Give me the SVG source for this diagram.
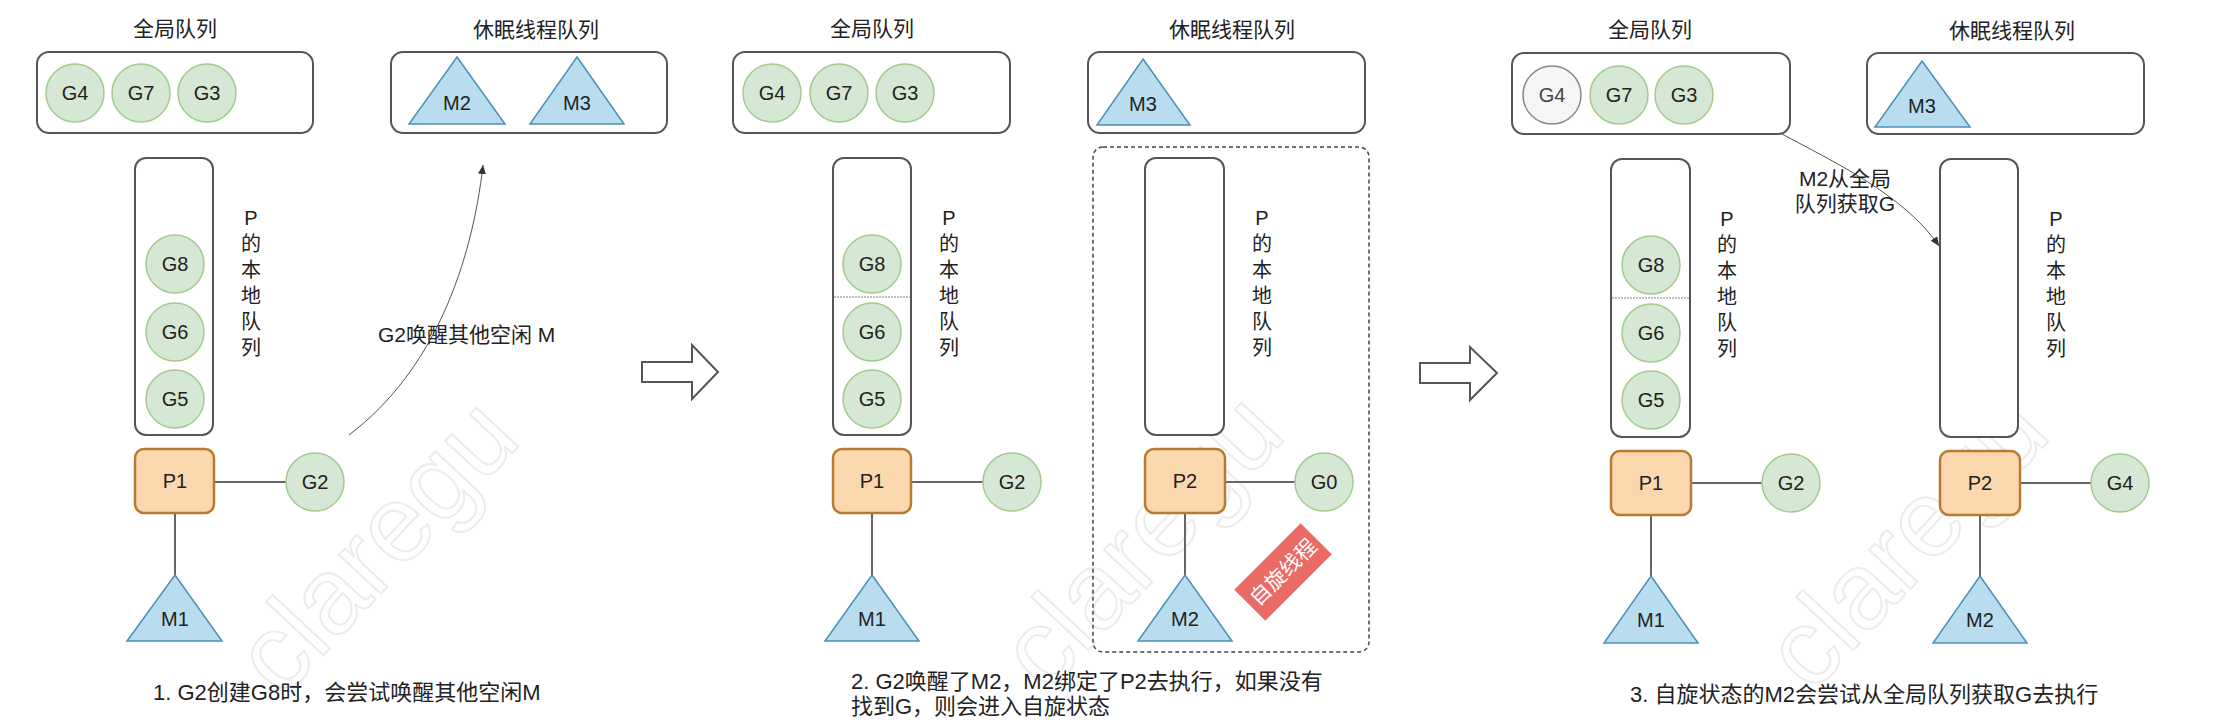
<svg xmlns="http://www.w3.org/2000/svg" width="2234" height="728" viewBox="0 0 2234 728">
<defs>
<style>
text{font-family:"Liberation Sans","Noto Sans CJK SC",sans-serif;fill:#222;}
.t{font-size:21px;text-anchor:middle;}
.cap{font-size:22px;}
.lb2{font-size:21px;}
.lbl{font-size:20px;text-anchor:middle;dominant-baseline:central;}
.vt{font-size:20px;text-anchor:middle;}
.box{fill:#fff;stroke:#555;stroke-width:2;}
.g{fill:#d5e8d4;stroke:#a3c98f;stroke-width:1.5;}
.gg{fill:#f5f5f5;stroke:#888;stroke-width:1.5;}
.m{fill:#b9dcef;stroke:#4a90b8;stroke-width:1.5;}
.p{fill:#fad7ac;stroke:#b87a30;stroke-width:2.5;}
.ln{stroke:#666;stroke-width:2;fill:none;}
.cv{stroke:#555;stroke-width:1;fill:none;}
.sep{stroke:#aaa;stroke-width:1.5;stroke-dasharray:2 1;}
.blk{fill:#fff;stroke:#555;stroke-width:2;}
.wm{font-size:108px;fill:none;stroke:#ececec;stroke-width:2;text-anchor:middle;dominant-baseline:central;}
</style>
<marker id="ah" markerWidth="10" markerHeight="10" refX="9" refY="4" orient="auto" markerUnits="userSpaceOnUse">
<path d="M0,0 L9,4 L0,8 Z" fill="#333"/>
</marker>
</defs>
<rect width="2234" height="728" fill="#fff"/>

<!-- watermarks -->
<g id="watermark">
<text class="wm" transform="translate(375,545) rotate(-47)">claregu</text>
<text class="wm" transform="translate(1140,540) rotate(-47)">claregu</text>
<text class="wm" transform="translate(1905,540) rotate(-47)">claregu</text>
</g>

<!-- connectors -->
<g id="connectors">
<line class="ln" x1="214" y1="482" x2="286" y2="482"/>
<line class="ln" x1="175" y1="513" x2="175" y2="576"/>
<path class="cv" d="M349,435 C435,370 472,262 483,165" marker-end="url(#ah)"/>
<line class="ln" x1="911" y1="482" x2="983" y2="482"/>
<line class="ln" x1="872" y1="513" x2="872" y2="576"/>
<line class="ln" x1="1225" y1="482" x2="1295" y2="482"/>
<line class="ln" x1="1185" y1="513" x2="1185" y2="576"/>
<line class="ln" x1="1691" y1="483" x2="1762" y2="483"/>
<line class="ln" x1="1651" y1="515" x2="1651" y2="577"/>
<line class="ln" x1="2020" y1="483" x2="2091" y2="483"/>
<line class="ln" x1="1980" y1="515" x2="1980" y2="577"/>
<path class="cv" d="M1782,134 C1830,160 1905,195 1939,246" marker-end="url(#ah)"/>
<path class="blk" d="M642,362 H692 V345 L718,372 L692,399 V382 H642 Z"/>
<path class="blk" d="M1420,363 H1470 V347 L1497,373 L1470,400 V383 H1420 Z"/>
</g>

<!-- ===== Panel 1 ===== -->
<g id="p1-global">
<text class="t" x="175" y="36">全局队列</text>
<rect class="box" x="37" y="52" width="276" height="81" rx="12"/>
</g>
<g id="p1-g4"><circle class="g" cx="75" cy="93" r="29"/><text class="lbl" x="75" y="93">G4</text></g>
<g id="p1-g7"><circle class="g" cx="141" cy="93" r="29"/><text class="lbl" x="141" y="93">G7</text></g>
<g id="p1-g3"><circle class="g" cx="207" cy="93" r="29"/><text class="lbl" x="207" y="93">G3</text></g>
<g id="p1-sleep">
<text class="t" x="536" y="37">休眠线程队列</text>
<rect class="box" x="391" y="52" width="276" height="81" rx="12"/>
</g>
<g id="p1-m2"><path class="m" d="M457,57 L505,124 L409,124 Z"/><text class="lbl" x="457" y="103">M2</text></g>
<g id="p1-m3"><path class="m" d="M577,57 L624,124 L530,124 Z"/><text class="lbl" x="577" y="103">M3</text></g>
<g id="p1-local">
<rect class="box" x="135" y="158" width="78" height="277" rx="11"/>
<text class="vt" x="251" y="225">P<tspan x="251" dy="26">的</tspan><tspan x="251" dy="26">本</tspan><tspan x="251" dy="26">地</tspan><tspan x="251" dy="26">队</tspan><tspan x="251" dy="26">列</tspan></text>
</g>
<g id="p1-g8"><circle class="g" cx="175" cy="264" r="29"/><text class="lbl" x="175" y="264">G8</text></g>
<g id="p1-g6"><circle class="g" cx="175" cy="332" r="29"/><text class="lbl" x="175" y="332">G6</text></g>
<g id="p1-g5"><circle class="g" cx="175" cy="399" r="29"/><text class="lbl" x="175" y="399">G5</text></g>
<g id="p1-p1"><rect class="p" x="135" y="449" width="79" height="64" rx="9"/><text class="lbl" x="175" y="481">P1</text></g>
<g id="p1-g2"><circle class="g" cx="315" cy="482" r="29"/><text class="lbl" x="315" y="482">G2</text></g>
<g id="p1-m1"><path class="m" d="M175,575 L222,641 L127,641 Z"/><text class="lbl" x="175" y="619">M1</text></g>
<g id="p1-label"><text class="lb2" x="378" y="342">G2唤醒其他空闲 M</text></g>
<g id="p1-caption"><text class="cap" x="153" y="700">1. G2创建G8时，会尝试唤醒其他空闲M</text></g>

<!-- ===== Panel 2 ===== -->
<g id="p2-global">
<text class="t" x="872" y="36">全局队列</text>
<rect class="box" x="733" y="52" width="277" height="81" rx="12"/>
</g>
<g id="p2-g4"><circle class="g" cx="772" cy="93" r="29"/><text class="lbl" x="772" y="93">G4</text></g>
<g id="p2-g7"><circle class="g" cx="839" cy="93" r="29"/><text class="lbl" x="839" y="93">G7</text></g>
<g id="p2-g3"><circle class="g" cx="905" cy="93" r="29"/><text class="lbl" x="905" y="93">G3</text></g>
<g id="p2-sleep">
<text class="t" x="1232" y="37">休眠线程队列</text>
<rect class="box" x="1088" y="52" width="277" height="81" rx="12"/>
</g>
<g id="p2-m3"><path class="m" d="M1143,59 L1190,125 L1097,125 Z"/><text class="lbl" x="1143" y="104">M3</text></g>
<g id="p2-spin">
<rect x="1093" y="147" width="276" height="505" rx="10" fill="none" stroke="#444" stroke-width="1.5" stroke-dasharray="4 3"/>
</g>
<g id="p2-local1">
<rect class="box" x="833" y="158" width="78" height="277" rx="11"/>
<line class="sep" x1="834" y1="297" x2="910" y2="297"/>
<text class="vt" x="949" y="225">P<tspan x="949" dy="26">的</tspan><tspan x="949" dy="26">本</tspan><tspan x="949" dy="26">地</tspan><tspan x="949" dy="26">队</tspan><tspan x="949" dy="26">列</tspan></text>
</g>
<g id="p2-g8"><circle class="g" cx="872" cy="264" r="29"/><text class="lbl" x="872" y="264">G8</text></g>
<g id="p2-g6"><circle class="g" cx="872" cy="332" r="29"/><text class="lbl" x="872" y="332">G6</text></g>
<g id="p2-g5"><circle class="g" cx="872" cy="399" r="29"/><text class="lbl" x="872" y="399">G5</text></g>
<g id="p2-local2">
<rect class="box" x="1145" y="158" width="79" height="277" rx="11"/>
<text class="vt" x="1262" y="225">P<tspan x="1262" dy="26">的</tspan><tspan x="1262" dy="26">本</tspan><tspan x="1262" dy="26">地</tspan><tspan x="1262" dy="26">队</tspan><tspan x="1262" dy="26">列</tspan></text>
</g>
<g id="p2-p1"><rect class="p" x="833" y="449" width="78" height="64" rx="9"/><text class="lbl" x="872" y="481">P1</text></g>
<g id="p2-g2"><circle class="g" cx="1012" cy="482" r="29"/><text class="lbl" x="1012" y="482">G2</text></g>
<g id="p2-m1"><path class="m" d="M872,575 L919,641 L825,641 Z"/><text class="lbl" x="872" y="619">M1</text></g>
<g id="p2-p2"><rect class="p" x="1145" y="449" width="80" height="64" rx="9"/><text class="lbl" x="1185" y="481">P2</text></g>
<g id="p2-g0"><circle class="g" cx="1324" cy="482" r="29"/><text class="lbl" x="1324" y="482">G0</text></g>
<g id="p2-m2"><path class="m" d="M1185,575 L1232,641 L1138,641 Z"/><text class="lbl" x="1185" y="619">M2</text></g>
<g id="p2-tag" transform="translate(1283,572) rotate(-45)">
<rect x="-47" y="-22" width="94" height="44" fill="#ea6b66"/>
<text class="lbl" x="0" y="0" style="fill:#fff;font-size:21px">自旋线程</text>
</g>
<g id="p2-caption">
<text class="cap" x="851" y="689">2. G2唤醒了M2，M2绑定了P2去执行，如果没有</text>
<text class="cap" x="851" y="714">找到G，则会进入自旋状态</text>
</g>

<!-- ===== Panel 3 ===== -->
<g id="p3-global">
<text class="t" x="1650" y="37">全局队列</text>
<rect class="box" x="1512" y="53" width="278" height="81" rx="12"/>
</g>
<g id="p3-g4"><circle class="gg" cx="1552" cy="95" r="29"/><text class="lbl" x="1552" y="95" style="fill:#444">G4</text></g>
<g id="p3-g7"><circle class="g" cx="1619" cy="95" r="29"/><text class="lbl" x="1619" y="95">G7</text></g>
<g id="p3-g3"><circle class="g" cx="1684" cy="95" r="29"/><text class="lbl" x="1684" y="95">G3</text></g>
<g id="p3-sleep">
<text class="t" x="2012" y="38">休眠线程队列</text>
<rect class="box" x="1867" y="53" width="277" height="81" rx="12"/>
</g>
<g id="p3-m3"><path class="m" d="M1922,61 L1970,127 L1875,127 Z"/><text class="lbl" x="1922" y="106">M3</text></g>
<g id="p3-local1">
<rect class="box" x="1611" y="159" width="79" height="278" rx="11"/>
<line class="sep" x1="1612" y1="298" x2="1689" y2="298"/>
<text class="vt" x="1727" y="226">P<tspan x="1727" dy="26">的</tspan><tspan x="1727" dy="26">本</tspan><tspan x="1727" dy="26">地</tspan><tspan x="1727" dy="26">队</tspan><tspan x="1727" dy="26">列</tspan></text>
</g>
<g id="p3-g8"><circle class="g" cx="1651" cy="265" r="29"/><text class="lbl" x="1651" y="265">G8</text></g>
<g id="p3-g6"><circle class="g" cx="1651" cy="333" r="29"/><text class="lbl" x="1651" y="333">G6</text></g>
<g id="p3-g5"><circle class="g" cx="1651" cy="400" r="29"/><text class="lbl" x="1651" y="400">G5</text></g>
<g id="p3-local2">
<rect class="box" x="1940" y="159" width="78" height="278" rx="11"/>
<text class="vt" x="2056" y="226">P<tspan x="2056" dy="26">的</tspan><tspan x="2056" dy="26">本</tspan><tspan x="2056" dy="26">地</tspan><tspan x="2056" dy="26">队</tspan><tspan x="2056" dy="26">列</tspan></text>
</g>
<g id="p3-p1"><rect class="p" x="1611" y="451" width="80" height="64" rx="9"/><text class="lbl" x="1651" y="483">P1</text></g>
<g id="p3-g2"><circle class="g" cx="1791" cy="483" r="29"/><text class="lbl" x="1791" y="483">G2</text></g>
<g id="p3-m1"><path class="m" d="M1651,576 L1698,643 L1604,643 Z"/><text class="lbl" x="1651" y="620">M1</text></g>
<g id="p3-p2"><rect class="p" x="1940" y="451" width="80" height="64" rx="9"/><text class="lbl" x="1980" y="483">P2</text></g>
<g id="p3-g4b"><circle class="g" cx="2120" cy="483" r="29"/><text class="lbl" x="2120" y="483">G4</text></g>
<g id="p3-m2"><path class="m" d="M1980,576 L2027,643 L1933,643 Z"/><text class="lbl" x="1980" y="620">M2</text></g>
<g id="p3-label">
<text class="lb2" x="1845" y="186" text-anchor="middle">M2从全局</text>
<text class="lb2" x="1845" y="211" text-anchor="middle">队列获取G</text>
</g>
<g id="p3-caption"><text class="cap" x="1630" y="702">3. 自旋状态的M2会尝试从全局队列获取G去执行</text></g>
</svg>
